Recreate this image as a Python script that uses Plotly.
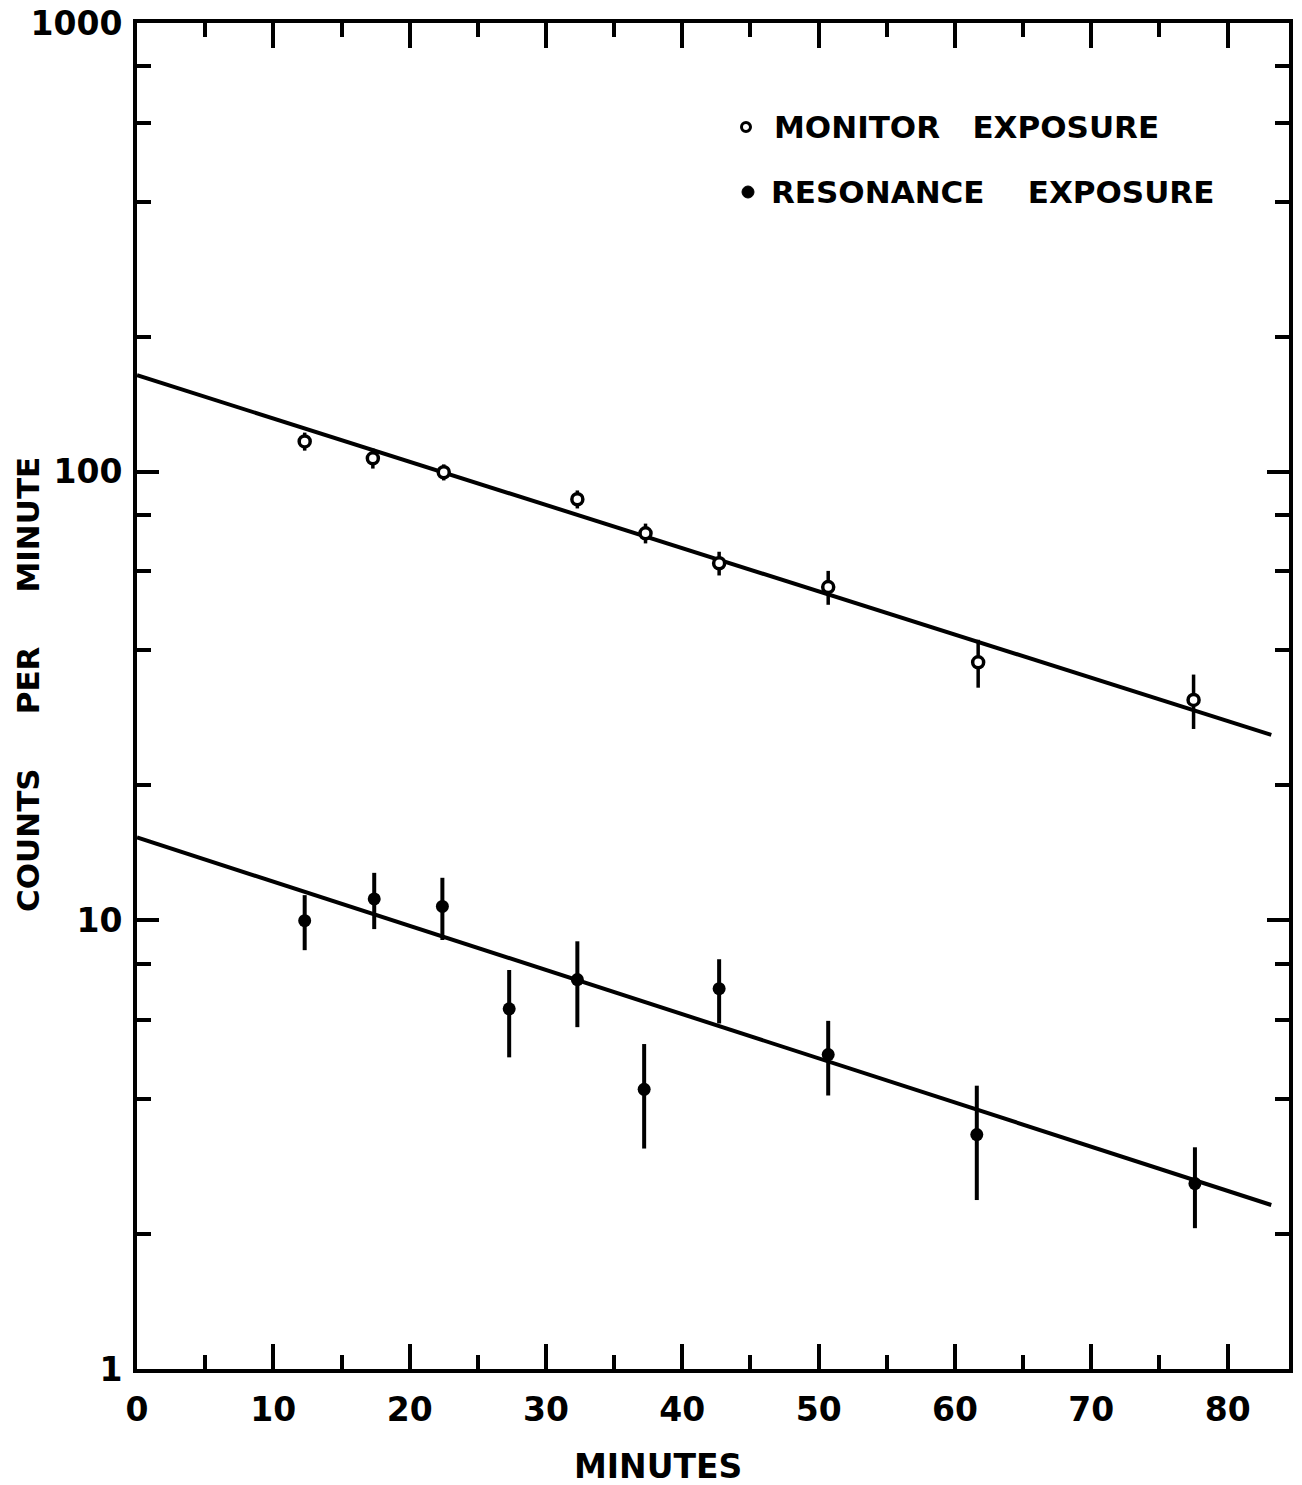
import plotly.graph_objects as go

# ---------------- data ----------------
minutes_monitor = [12.3, 17.3, 22.5, 32.3, 37.3, 42.7, 50.7, 61.7, 77.5]
counts_monitor = [116.8, 107.1, 99.7, 86.8, 72.9, 62.5, 55.3, 37.6, 31.0]
err_monitor = [5.4, 5.5, 4.1, 4.0, 3.7, 3.8, 4.8, 4.6, 4.3]

minutes_resonance = [12.3, 17.4, 22.4, 27.3, 32.3, 37.2, 42.7, 50.7, 61.6, 77.6]
counts_resonance = [9.98, 11.16, 10.74, 6.35, 7.38, 4.20, 7.04, 5.02, 3.33, 2.59]
err_resonance = [1.4, 1.6, 1.7, 1.4, 1.6, 1.1, 1.15, 0.95, 0.95, 0.53]

fit_minutes = [0, 83.2]
fit_monitor = [164, 25.9]
fit_resonance = [15.3, 2.32]

x_ticks = [0, 10, 20, 30, 40, 50, 60, 70, 80]
x_minor = [5, 15, 25, 35, 45, 55, 65, 75]
y_ticks = [1, 10, 100, 1000]
y_ticktext = ["1", "10", "100", "1000"]
y_minor = [m * d for d in (1, 10, 100) for m in (2, 4, 6, 8)]

legend_labels = ["MONITOR\u00a0\u00a0\u00a0EXPOSURE", "RESONANCE\u00a0\u00a0\u00a0\u00a0EXPOSURE"]
x_title = "MINUTES"
y_title = "COUNTS\u00a0\u00a0\u00a0\u00a0\u00a0PER\u00a0\u00a0\u00a0\u00a0\u00a0MINUTE"

# ---------------- layout geometry ----------------
W, H = 1302, 1485
ML, MR, MT, MB = 137, 13, 23, 116
PW, PH = W - ML - MR, H - MT - MB


def px_x(px):
    return (px - ML) / PW


def px_y(py):
    return 1 - (py - MT) / PH


FONT = dict(family="DejaVu Sans", color="black", weight="bold")

fig = go.Figure()

for ys in (fit_monitor, fit_resonance):
    fig.add_trace(go.Scatter(x=fit_minutes, y=ys, mode="lines",
                             line=dict(color="black", width=4),
                             showlegend=False, hoverinfo="skip"))

fig.add_trace(go.Scatter(
    x=minutes_monitor, y=counts_monitor, mode="markers",
    marker=dict(symbol="circle", size=11, color="white",
                line=dict(color="black", width=3.5)),
    error_y=dict(type="data", array=err_monitor, visible=True,
                 color="black", thickness=3.5, width=0),
    showlegend=False))

fig.add_trace(go.Scatter(
    x=minutes_resonance, y=counts_resonance, mode="markers",
    marker=dict(symbol="circle", size=13, color="black"),
    error_y=dict(type="data", array=err_resonance, visible=True,
                 color="black", thickness=4, width=0),
    showlegend=False))

axis_common = dict(
    showline=True, linewidth=4, linecolor="black", mirror="ticks",
    showgrid=False, zeroline=False, ticks="inside", tickwidth=4,
    tickcolor="black", tickfont=dict(size=33, **FONT), automargin=False,
)

fig.update_xaxes(
    range=[0, 84.5], tickmode="array", tickvals=x_ticks,
    ticktext=[str(v) for v in x_ticks], ticklen=25,
    ticklabelstandoff=8,
    minor=dict(tickmode="array", tickvals=x_minor, ticks="inside",
               ticklen=14, tickwidth=4, tickcolor="black", showgrid=False),
    **axis_common)

fig.update_yaxes(
    type="log", range=[0, 3], tickmode="array", tickvals=y_ticks,
    ticktext=y_ticktext, ticklen=22, ticklabelstandoff=4,
    minor=dict(tickmode="array", tickvals=y_minor, ticks="inside",
               ticklen=14, tickwidth=4, tickcolor="black", showgrid=False),
    **axis_common)

annotations = [
    dict(text=legend_labels[0], xref="paper", yref="paper",
         x=px_x(772), y=px_y(127), xanchor="left", yanchor="middle",
         showarrow=False, font=dict(size=31, **FONT)),
    dict(text=legend_labels[1], xref="paper", yref="paper",
         x=px_x(769), y=px_y(192), xanchor="left", yanchor="middle",
         showarrow=False, font=dict(size=31, **FONT)),
    dict(text=x_title, xref="paper", yref="paper",
         x=px_x(658), y=px_y(1466), xanchor="center", yanchor="middle",
         showarrow=False, font=dict(size=33, **FONT)),
    dict(text=y_title, xref="paper", yref="paper", textangle=-90,
         x=px_x(28), y=px_y(685), xanchor="center", yanchor="middle",
         showarrow=False, font=dict(size=31, **FONT)),
]

shapes = [
    dict(type="circle", xref="paper", yref="paper",
         xsizemode="pixel", ysizemode="pixel",
         xanchor=px_x(746), yanchor=px_y(127),
         x0=-4.5, x1=4.5, y0=-4.5, y1=4.5,
         line=dict(color="black", width=3), fillcolor="white"),
    dict(type="circle", xref="paper", yref="paper",
         xsizemode="pixel", ysizemode="pixel",
         xanchor=px_x(748), yanchor=px_y(192),
         x0=-6, x1=6, y0=-6, y1=6,
         line=dict(color="black", width=1), fillcolor="black"),
]

fig.update_layout(
    width=W, height=H,
    margin=dict(l=ML, r=MR, t=MT, b=MB),
    paper_bgcolor="white", plot_bgcolor="white",
    annotations=annotations, shapes=shapes,
    showlegend=False,
)

fig.write_html("out.html")
